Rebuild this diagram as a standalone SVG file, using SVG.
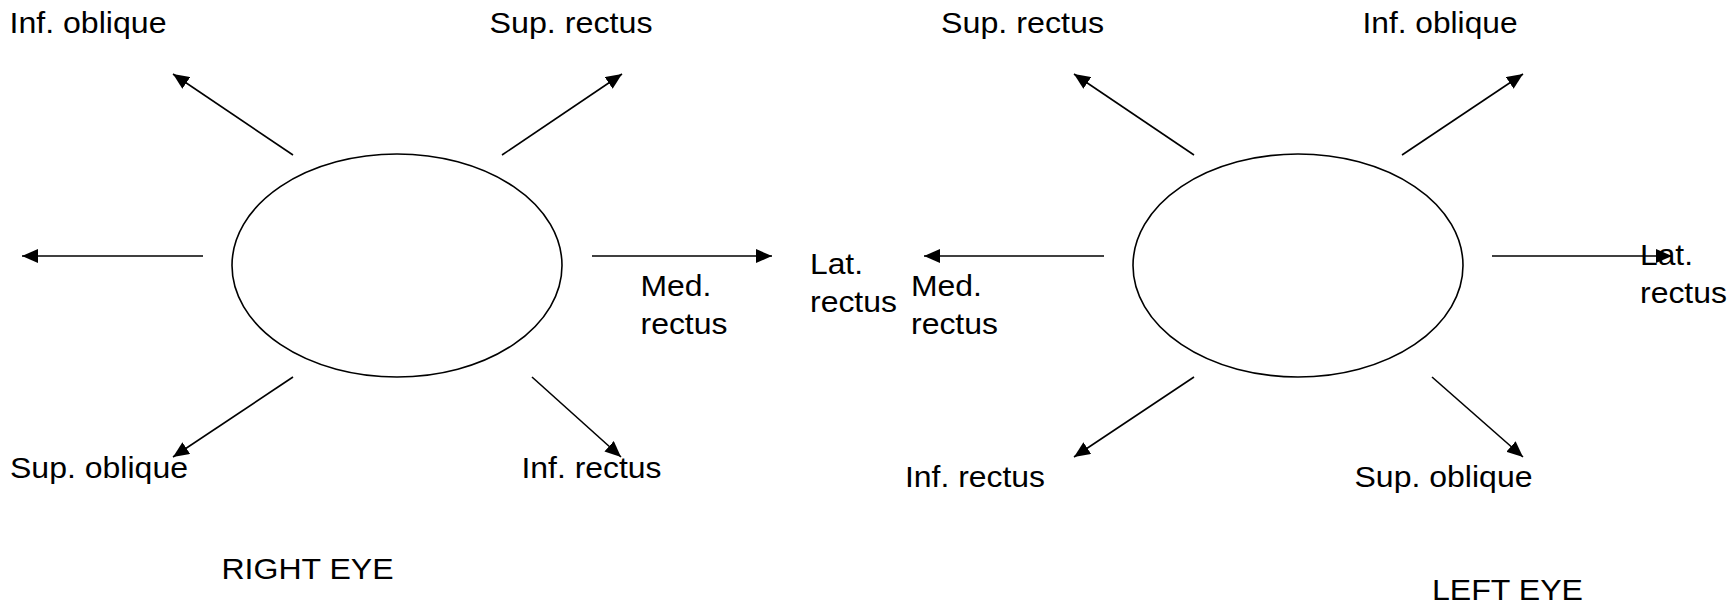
<svg xmlns="http://www.w3.org/2000/svg" width="1732" height="604" viewBox="0 0 1732 604">
<style>
.bg{fill:#fff}
.eye{fill:#fff;stroke:#000;stroke-width:1.6}
.c{stroke:#000;stroke-width:1.6;fill:none;marker-end:url(#ah)}
text{font-family:"Liberation Sans",Arial,sans-serif;font-size:29px;fill:#000}
</style>
<defs>
<marker id="ah" markerUnits="userSpaceOnUse" markerWidth="17" markerHeight="14" refX="16" refY="7" orient="auto" viewBox="0 0 17 14">
<path d="M0,0 L16,7 L0,14 z" fill="#000"/>
</marker>
</defs>
<rect class="bg" x="0" y="0" width="1732" height="604"/>
<g id="connectors">
<line class="c" x1="293" y1="155" x2="173" y2="74"/>
<line class="c" x1="502" y1="155" x2="622" y2="74"/>
<line class="c" x1="203" y1="256" x2="22" y2="256"/>
<line class="c" x1="592" y1="256" x2="772" y2="256"/>
<line class="c" x1="293" y1="377" x2="173" y2="457"/>
<line class="c" x1="532" y1="377" x2="621" y2="457"/>
<line class="c" x1="1194" y1="155" x2="1074" y2="74"/>
<line class="c" x1="1402" y1="155" x2="1523" y2="74"/>
<line class="c" x1="1104" y1="256" x2="924" y2="256"/>
<line class="c" x1="1492" y1="256" x2="1672" y2="256"/>
<line class="c" x1="1194" y1="377" x2="1074" y2="457"/>
<line class="c" x1="1432" y1="377" x2="1523" y2="457"/>
</g>
<g id="right-eye">
<ellipse class="eye" cx="397" cy="265.5" rx="165" ry="111.5"/>
</g>
<g id="left-eye">
<ellipse class="eye" cx="1298" cy="265.5" rx="165" ry="111.5"/>
</g>
<g id="right-labels">
<text x="9.5" y="33" textLength="157" lengthAdjust="spacingAndGlyphs">Inf. oblique</text>
<text x="489.5" y="33" textLength="163" lengthAdjust="spacingAndGlyphs">Sup. rectus</text>
<text x="640.5" y="296" textLength="71" lengthAdjust="spacingAndGlyphs">Med.</text>
<text x="640.5" y="334" textLength="87" lengthAdjust="spacingAndGlyphs">rectus</text>
<text x="810" y="274" textLength="53" lengthAdjust="spacingAndGlyphs">Lat.</text>
<text x="810" y="312" textLength="87" lengthAdjust="spacingAndGlyphs">rectus</text>
<text x="10" y="478" textLength="178" lengthAdjust="spacingAndGlyphs">Sup. oblique</text>
<text x="521.5" y="478" textLength="140" lengthAdjust="spacingAndGlyphs">Inf. rectus</text>
<text x="221.5" y="579" textLength="172" lengthAdjust="spacingAndGlyphs">RIGHT EYE</text>
</g>
<g id="left-labels">
<text x="941" y="33" textLength="163" lengthAdjust="spacingAndGlyphs">Sup. rectus</text>
<text x="1362.5" y="33" textLength="155" lengthAdjust="spacingAndGlyphs">Inf. oblique</text>
<text x="911" y="296" textLength="71" lengthAdjust="spacingAndGlyphs">Med.</text>
<text x="911" y="334" textLength="87" lengthAdjust="spacingAndGlyphs">rectus</text>
<text x="1640" y="265" textLength="53" lengthAdjust="spacingAndGlyphs">Lat.</text>
<text x="1640" y="303" textLength="87" lengthAdjust="spacingAndGlyphs">rectus</text>
<text x="905" y="487" textLength="140" lengthAdjust="spacingAndGlyphs">Inf. rectus</text>
<text x="1354.5" y="487" textLength="178" lengthAdjust="spacingAndGlyphs">Sup. oblique</text>
<text x="1432" y="600" textLength="151" lengthAdjust="spacingAndGlyphs">LEFT EYE</text>
</g>
</svg>
